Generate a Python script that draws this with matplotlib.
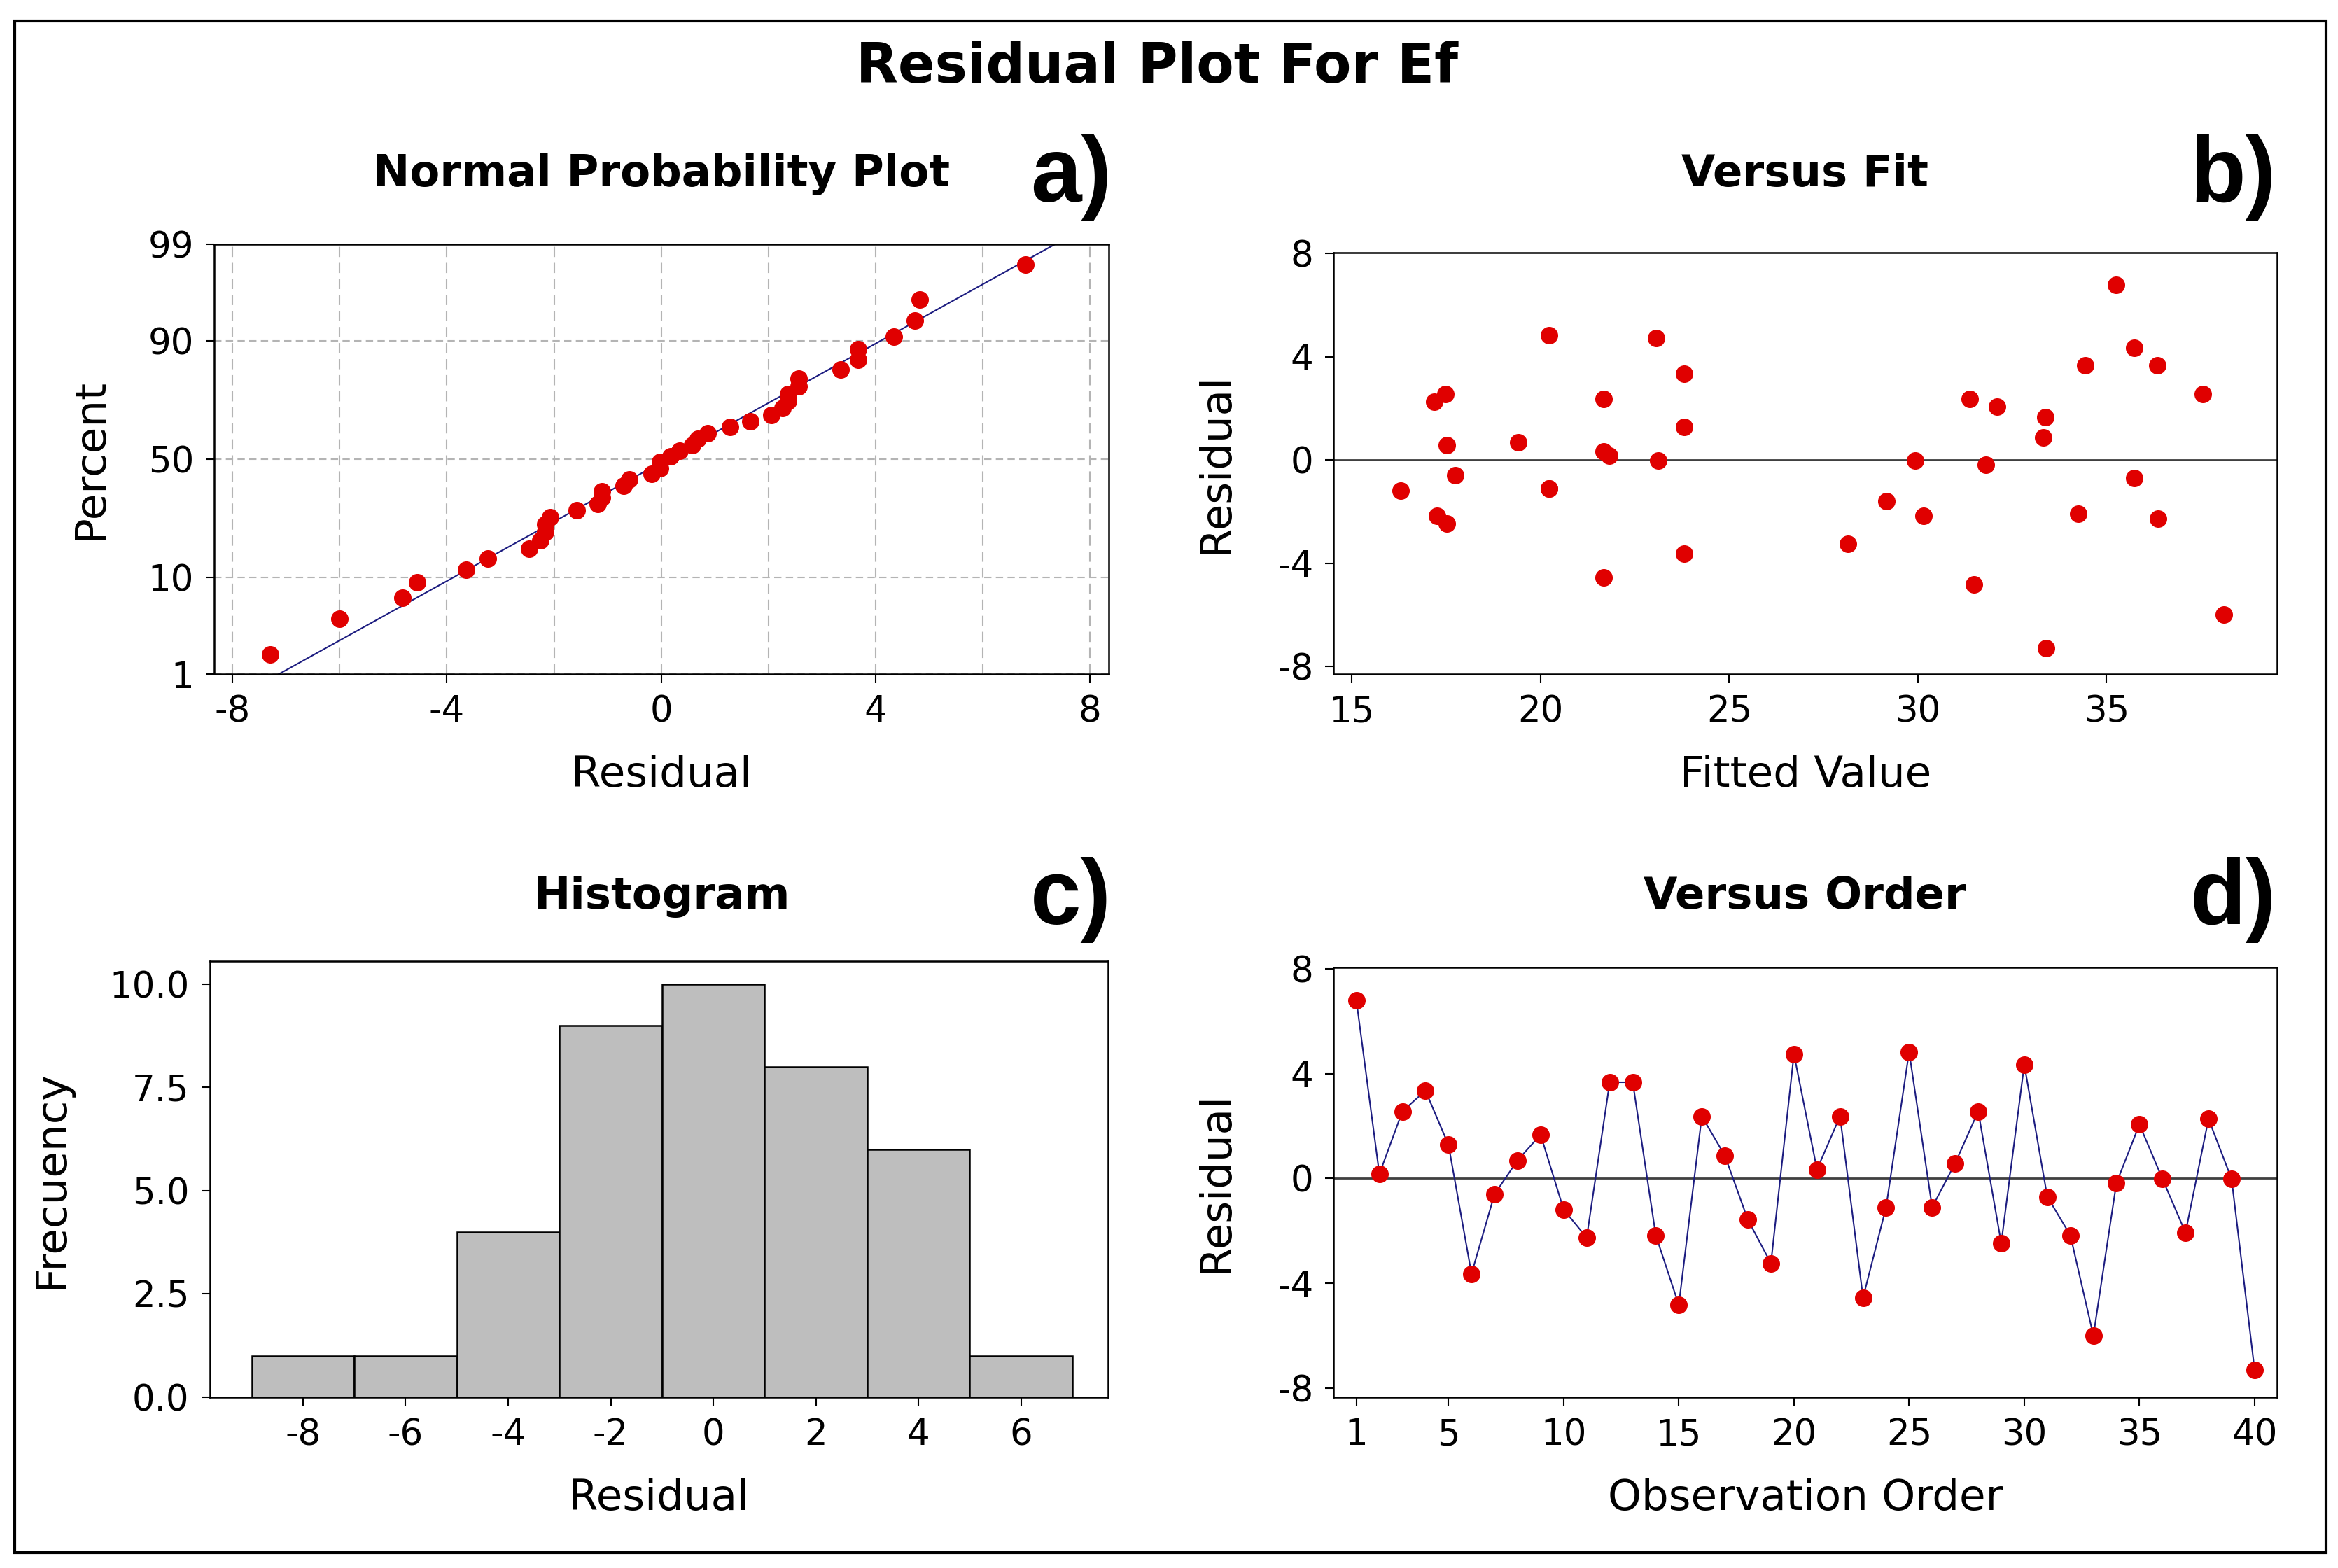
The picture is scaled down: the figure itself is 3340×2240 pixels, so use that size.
import numpy as np
import matplotlib
matplotlib.use("Agg")
import matplotlib.pyplot as plt
from matplotlib.patches import Rectangle
from matplotlib.ticker import MultipleLocator, FormatStrFormatter
from statistics import NormalDist

residuos = [6.80, 0.17, 2.56, 3.35, 1.28, -3.64, -0.60, 0.69, 1.67, -1.19,
            -2.26, 3.67, 3.67, -2.17, -4.83, 2.37, 0.87, -1.58, -3.24, 4.74,
            0.34, 2.37, -4.55, -1.10, 4.83, -1.10, 0.58, 2.56, -2.47, 4.34,
            -0.70, -2.17, -6.00, -0.18, 2.06, -0.02, -2.07, 2.27, -0.02, -7.30]

ajustados = [35.25, 21.82, 37.55, 23.80, 23.80, 23.80, 17.74, 19.40, 33.38, 16.30,
             36.37, 34.43, 36.35, 17.25, 31.48, 21.67, 33.32, 29.17, 28.14, 23.06,
             21.67, 31.38, 21.67, 20.22, 20.22, 20.22, 17.51, 17.48, 17.51, 35.74,
             35.74, 30.14, 38.10, 31.80, 32.09, 23.11, 34.24, 17.19, 29.93, 33.40]

orden = list(range(1, len(residuos) + 1))
bordes_hist = [-9, -7, -5, -3, -1, 1, 3, 5, 7]
pct_ticks = [1, 10, 50, 90, 99]

ROJO = "#e00000"
AZUL = "#1c1c80"
plt.rcParams["font.family"] = "DejaVu Sans"
plt.rcParams["axes.unicode_minus"] = False

fig = plt.figure(figsize=(33.4, 22.4), dpi=100)

# marco exterior
fig.patches.append(Rectangle((0.0064, 0.0096), 0.9885, 0.977, transform=fig.transFigure,
                             fill=False, lw=3, edgecolor="black"))

fig.text(0.495, 0.957, "Residual Plot For Ef", ha="center", va="center",
         fontsize=56, fontweight="bold")

ax_a = fig.add_axes([0.0917, 0.570, 0.3827, 0.274])
ax_b = fig.add_axes([0.5705, 0.570, 0.4035, 0.269])
ax_c = fig.add_axes([0.0897, 0.109, 0.3843, 0.278])
ax_d = fig.add_axes([0.5705, 0.109, 0.4035, 0.274])

for ax in (ax_a, ax_b, ax_c, ax_d):
    for s in ax.spines.values():
        s.set_linewidth(1.8)
    ax.tick_params(labelsize=37, length=9, width=1.5, direction="out", pad=12)

titulos = [(0.283, 0.889, "Normal Probability Plot"), (0.772, 0.889, "Versus Fit"),
           (0.283, 0.428, "Histogram"), (0.772, 0.428, "Versus Order")]
for x, y, t in titulos:
    fig.text(x, y, t, ha="center", va="center", fontsize=45, fontweight="bold")

letras = [(0.458, 0.887, "a)"), (0.955, 0.887, "b)"), (0.458, 0.426, "c)"), (0.955, 0.426, "d)")]
for x, y, t in letras:
    fig.text(x, y, t, ha="center", va="center", fontsize=94, fontweight="bold",
             family="Liberation Sans")

# a) gráfico de probabilidad normal
nd = NormalDist()
r_ord = np.sort(np.array(residuos))
n = len(r_ord)
z = np.array([nd.inv_cdf((i - 0.3) / (n + 0.4)) for i in range(1, n + 1)])
z_lo, z_hi = nd.inv_cdf(0.01), nd.inv_cdf(0.99)
media, sd = r_ord.mean(), r_ord.std(ddof=1)
zz = np.array([z_lo - 0.2, z_hi + 0.2])
ax_a.plot(media + sd * zz, zz, color=AZUL, lw=1.5, zorder=2)
ax_a.plot(r_ord, z, "o", color=ROJO, ms=17, zorder=3)
ax_a.set_xlim(-8.34, 8.36)
ax_a.set_ylim(z_lo, z_hi)
ax_a.set_xticks([-8, -4, 0, 4, 8])
ax_a.xaxis.set_minor_locator(MultipleLocator(2))
ax_a.tick_params(axis="x", which="minor", length=0)
ax_a.set_yticks([nd.inv_cdf(p / 100) for p in pct_ticks])
ax_a.set_yticklabels([str(p) for p in pct_ticks])
ax_a.grid(axis="x", which="both", color="#b4b4b4", ls=(0, (7, 4)), lw=1.5, zorder=0)
ax_a.grid(axis="y", which="major", color="#b4b4b4", ls=(0, (5, 3)), lw=1.5, zorder=0)
ax_a.set_xlabel("Residual", fontsize=44, labelpad=26)
ax_a.set_ylabel("Percent", fontsize=44, labelpad=38)

# b) versus ajuste
ax_b.axhline(0, color="#404040", lw=2, zorder=1)
ax_b.plot(ajustados, residuos, "o", color=ROJO, ms=17, zorder=3)
ax_b.set_xlim(14.52, 39.52)
ax_b.set_ylim(-8.3, 8.05)
ax_b.set_xticks([15, 20, 25, 30, 35])
ax_b.set_yticks([-8, -4, 0, 4, 8])
ax_b.set_xlabel("Fitted Value", fontsize=44, labelpad=26)
ax_b.set_ylabel("Residual", fontsize=44, labelpad=42)

# c) histograma
ax_c.hist(residuos, bins=bordes_hist, color="#bebebe", edgecolor="black", lw=1.8, zorder=2)
ax_c.set_xlim(-9.82, 7.70)
ax_c.set_ylim(0, 10.55)
ax_c.set_xticks([-8, -6, -4, -2, 0, 2, 4, 6])
ax_c.set_yticks([0, 2.5, 5, 7.5, 10])
ax_c.yaxis.set_major_formatter(FormatStrFormatter("%.1f"))
ax_c.set_xlabel("Residual", fontsize=44, labelpad=26)
ax_c.set_ylabel("Frecuency", fontsize=44, labelpad=38)

# d) versus orden
ax_d.axhline(0, color="#404040", lw=2, zorder=1)
ax_d.plot(orden, residuos, "-", color=AZUL, lw=1.5, zorder=2)
ax_d.plot(orden, residuos, "o", color=ROJO, ms=17, zorder=3)
ax_d.set_xlim(0.02, 40.98)
ax_d.set_ylim(-8.35, 8.05)
ax_d.set_xticks([1, 5, 10, 15, 20, 25, 30, 35, 40])
ax_d.set_yticks([-8, -4, 0, 4, 8])
ax_d.set_xlabel("Observation Order", fontsize=44, labelpad=26)
ax_d.set_ylabel("Residual", fontsize=44, labelpad=42)

fig.savefig("out.png", dpi=100, facecolor="white")
plt.close(fig)
